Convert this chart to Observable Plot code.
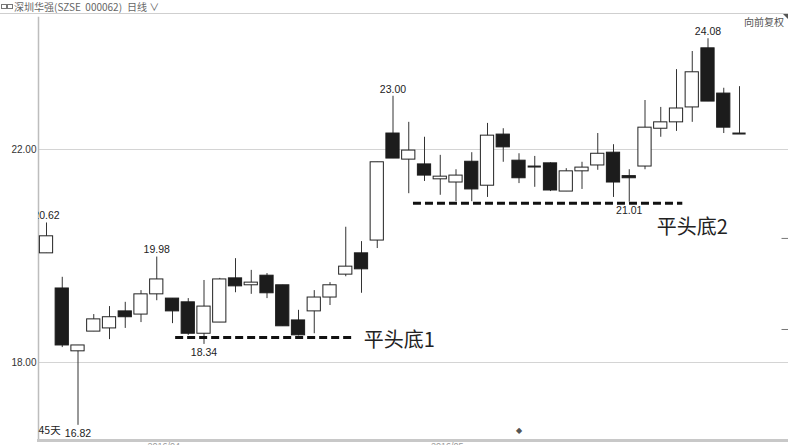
<!DOCTYPE html>
<html>
<head>
<meta charset="utf-8">
<script src="https://cdn.jsdelivr.net/npm/d3@7"></script>
<script src="https://cdn.jsdelivr.net/npm/@observablehq/plot@0.6"></script>
<style>
  html, body { margin: 0; padding: 0; background: #fff; }
  #wrap { position: relative; width: 788px; height: 445px; overflow: hidden; font-family: "Liberation Sans", Arial, sans-serif; }
  #hdr { position: absolute; left: 0; top: 0; width: 788px; height: 13px; border-bottom: 1px solid #cfcfcf; font-size: 10px; line-height: 13px; color: #666; white-space: nowrap; z-index: 2; }
  #hdr .icon { position: absolute; left: 1px; top: 4px; width: 4px; height: 3px; border: 1px solid #777; }
  #hdr .icon2 { position: absolute; left: 7px; top: 4px; width: 4px; height: 3px; border: 1px solid #777; }
  #hdr .name { position: absolute; left: 14px; top: 0; font-family: "Noto Sans CJK SC", "Liberation Sans", sans-serif; }
  #hdr .period { position: absolute; left: 127px; top: 0; font-family: "Noto Sans CJK SC", sans-serif; }
  #adj { position: absolute; right: 4px; top: 14px; font-size: 10px; color: #555; font-family: "Noto Sans CJK SC", sans-serif; z-index: 2; }
  #tri { position: absolute; right: 0; top: 14px; width: 0; height: 0; border-left: 5px solid transparent; border-top: 5px solid #555; z-index: 2; }
  #chart svg { display: block; }
</style>
</head>
<body>
<div id="wrap">
  <div id="hdr"><span class="icon"></span><span class="icon2"></span><span class="name">深圳华强(SZSE&nbsp; 000062)</span><span class="period">日线 &#8744;</span></div>
  <div id="adj">向前复权</div>
  <div id="tri"></div>
  <div id="chart"></div>
</div>
<script>
// ---- data ----
const open  = [20.05, 19.39, 18.21, 18.58, 18.64, 18.96, 18.90, 19.28, 19.20, 19.13,
               18.54, 18.75, 19.58, 19.45, 19.63, 19.45, 18.79, 18.96, 19.22, 19.65,
               20.05, 20.29, 22.30, 21.81, 21.72, 21.44, 21.38, 21.77, 21.32, 22.28,
               21.79, 21.68, 21.74, 21.21, 21.59, 21.70, 21.94, 21.50, 21.68, 22.39,
               22.51, 22.79, 23.90, 23.05, 22.30];
const high  = [20.62, 19.60, 18.32, 18.90, 19.05, 19.13, 19.35, 19.98, 19.20, 19.20,
               19.54, 19.58, 19.95, 19.73, 19.67, 19.45, 18.98, 19.35, 19.50, 20.54,
               20.27, 21.76, 23.00, 22.51, 22.23, 21.89, 21.62, 21.94, 22.49, 22.39,
               21.92, 21.87, 21.75, 21.64, 21.76, 22.30, 22.09, 21.62, 22.92, 22.79,
               23.50, 23.84, 24.08, 23.15, 23.18];
const low   = [20.05, 18.28, 16.82, 18.58, 18.43, 18.64, 18.75, 19.16, 18.73, 18.51,
               18.34, 18.75, 19.31, 19.28, 19.20, 18.68, 18.50, 18.54, 19.07, 19.61,
               19.30, 20.14, 21.83, 21.17, 21.40, 21.14, 21.02, 21.02, 21.10, 21.76,
               21.36, 21.29, 21.21, 21.21, 21.25, 21.61, 21.10, 21.01, 21.62, 22.23,
               22.34, 22.51, 22.90, 22.30, 22.30];
const close = [20.37, 18.32, 18.32, 18.81, 18.85, 18.85, 19.28, 19.56, 18.96, 18.54,
               19.05, 19.56, 19.43, 19.50, 19.30, 18.68, 18.51, 19.22, 19.45, 19.80,
               19.75, 21.76, 21.83, 21.98, 21.51, 21.49, 21.51, 21.25, 22.26, 22.04,
               21.46, 21.68, 21.23, 21.59, 21.66, 21.92, 21.38, 21.46, 22.41, 22.51,
               22.77, 23.45, 22.90, 22.41, 22.30];

// price labels at highs / lows
const highLabelIdx  = [0, 7, 22, 42];
const highLabelText = ["20.62", "19.98", "23.00", "24.08"];
const lowLabelIdx   = [2, 10, 37];
const lowLabelText  = ["16.82", "18.34", "21.01"];

// "平头底" support lines
const supportName  = ["平头底1", "平头底2"];
const supportLevel = [18.47, 20.99];
const supportFrom  = [8.2, 23.3];
const supportTo    = [19.55, 40.4];
const supportTextX = [22.4, 41.0];
const supportTextY = [18.41, 20.54];

// axes
const yTicks = [18, 22];
const dateTickIdx  = [7, 25];
const dateTickText = ["2016/04", "2016/05"];
const periodNote = "45天";
const markerIdx = [30];
const sideTickLevels = [20.33, 18.62];

// ---- build tables ----
const candles = open.map((o, i) => ({ i, o, h: high[i], l: low[i], c: close[i] }));
const up   = candles.filter(d => d.c - d.o > 0.02);
const down = candles.filter(d => d.o - d.c > 0.02);
const doji = candles.filter(d => Math.abs(d.c - d.o) <= 0.02);
const highs = highLabelIdx.map((i, k) => ({ i, v: high[i], t: highLabelText[k] }));
const lows  = lowLabelIdx.map((i, k) => ({ i, v: low[i], t: lowLabelText[k] }));
const supports = supportName.map((n, k) => ({ n, level: supportLevel[k], from: supportFrom[k], to: supportTo[k], tx: supportTextX[k], ty: supportTextY[k] }));
const dates = dateTickIdx.map((i, k) => ({ i, t: dateTickText[k] }));
const hw = 0.42;

const chart = Plot.plot({
  width: 788,
  height: 445,
  marginLeft: 38,
  marginRight: 0,
  marginTop: 17,
  marginBottom: 5,
  style: { fontFamily: "'Liberation Sans', Arial, sans-serif", fontSize: "10px", background: "white", color: "#222" },
  x: { domain: [0, 44], range: [46, 739], axis: null },
  y: { domain: [18, 22], range: [362, 149] },
  marks: [
    Plot.gridY(yTicks, { stroke: "#d4d4d4", strokeOpacity: 1 }),
    Plot.axisY(yTicks, { tickSize: 0, tickPadding: 2, tickFormat: d => d.toFixed(2), fontSize: 10, fill: "#333", label: null }),
    Plot.frame({ anchor: "left", stroke: "#bdbdbd", strokeWidth: 1.5 }),
    Plot.frame({ anchor: "bottom", stroke: "#c8c8c8", strokeWidth: 3 }),
    // wicks
    Plot.ruleX(candles, { x: "i", y1: "l", y2: "h", stroke: "#333", strokeWidth: 1 }),
    // bodies
    Plot.rect(up, { x1: d => d.i - hw, x2: d => d.i + hw, y1: "o", y2: "c", fill: "white", stroke: "#222", strokeWidth: 1 }),
    Plot.rect(down, { x1: d => d.i - hw, x2: d => d.i + hw, y1: "o", y2: "c", fill: "#1c1c1c", stroke: "#1c1c1c", strokeWidth: 1 }),
    Plot.ruleY(doji, { y: "c", x1: d => d.i - hw, x2: d => d.i + hw, stroke: "#222", strokeWidth: 2 }),
    // support lines
    Plot.ruleY(supports, { y: "level", x1: "from", x2: "to", stroke: "#111", strokeWidth: 3, strokeDasharray: "8,4" }),
    Plot.text(supports, { x: "tx", y: "ty", text: "n", fontSize: 20, fill: "#222", fontFamily: "'Noto Sans CJK SC', sans-serif" }),
    // price labels
    Plot.text(highs, { x: "i", y: "v", text: "t", dy: -7, fontSize: 10.5, fill: "#222", clip: true }),
    Plot.text(lows, { x: "i", y: "v", text: "t", dy: 8, fontSize: 10.5, fill: "#222", clip: true }),
    Plot.text([periodNote], { frameAnchor: "bottom-left", text: d => d, textAnchor: "start", dy: -7, dx: 0, fontSize: 10.5, fill: "#222", fontFamily: "'Noto Sans CJK SC', sans-serif" }),
    // date labels (just below the bottom rule, as in the source they sit at the edge)
    Plot.text(dates, { x: "i", frameAnchor: "bottom", text: "t", dx: 7, dy: 8, fontSize: 9, fill: "#999" }),
    // small marker
    Plot.text(markerIdx, { x: d => d, frameAnchor: "bottom", text: d => "◆", dy: -8, fontSize: 8, fill: "#555" }),
    // right side stubs
    Plot.ruleY(sideTickLevels, { y: d => d, x1: 46.7, x2: 47.2, stroke: "#777", strokeWidth: 1 })
  ]
});
document.getElementById("chart").appendChild(chart);
</script>
</body>
</html>
